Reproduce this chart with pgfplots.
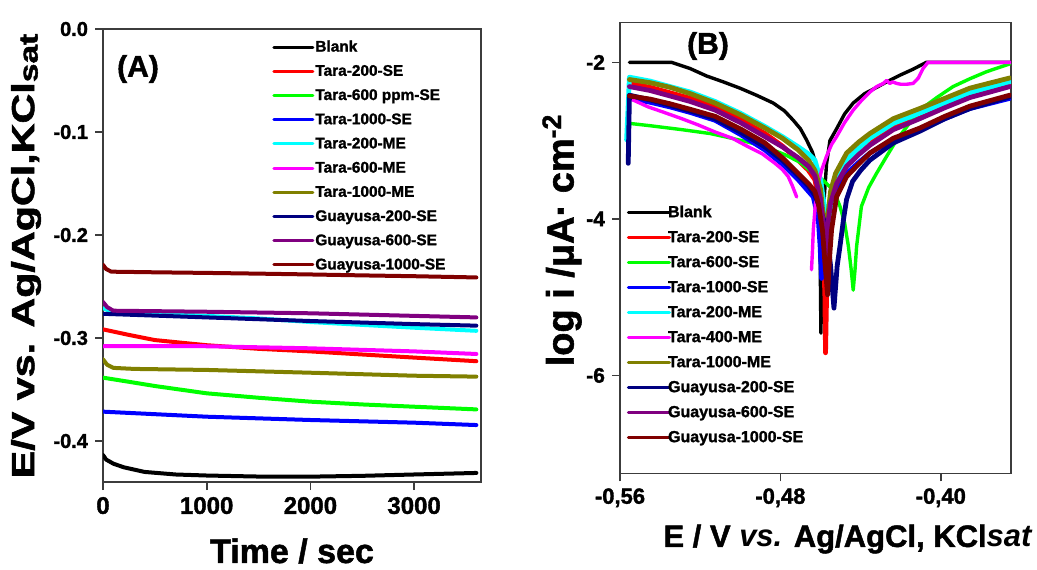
\documentclass[border=0pt]{standalone}
\usepackage{pgfplots}
\pgfplotsset{compat=1.18}
\usepackage{fontspec}
\setmainfont{Liberation Sans}[BoldFeatures={FakeBold=1.5}]
\definecolor{cgreen}{RGB}{0,255,0}
\definecolor{ccyan}{RGB}{0,255,255}
\definecolor{cmag}{RGB}{255,0,255}
\definecolor{colive}{RGB}{128,128,0}
\definecolor{cnavy}{RGB}{0,0,128}
\definecolor{cpurple}{RGB}{128,0,128}
\definecolor{cdkred}{RGB}{128,0,0}
\definecolor{cred}{RGB}{255,0,0}
\definecolor{cblue}{RGB}{0,0,255}
\definecolor{axgray}{RGB}{60,60,60}
\pgfplotsset{
  mystyle/.style={
    scale only axis, anchor=south west,
    axis line style={axgray, line width=0.8pt},
    tick style={axgray, line width=0.8pt},
    major tick length=4pt,
    tick align=outside, tick pos=left,
    clip=true,
    every axis plot/.append style={line join=round, line cap=round},
    legend cell align=left,
  }
}
\begin{document}
\begin{tikzpicture}
\useasboundingbox (0,0) rectangle (518.5pt,284.5pt);
% ---------------- Panel A ----------------
\begin{axis}[mystyle,
  at={(51.5pt,43.5pt)}, width=189pt, height=226.5pt,
  xmin=0, xmax=3645, ymin=-0.4398, ymax=0,
  xtick={0,1000,2000,3000}, xticklabels={0,1000,2000,3000},
  ytick={-0.4,-0.3,-0.2,-0.1,0}, yticklabels={-0.4,-0.3,-0.2,-0.1,0.0},
  xticklabel style={font=\fontsize{12}{14}\selectfont\bfseries},
  yticklabel style={font=\fontsize{10}{12}\selectfont\bfseries},
  every axis plot/.append style={line width=2pt},
  legend image code/.code={\draw[#1,line width=1.5pt] (0pt,0pt) -- (19.5pt,0pt);},
  legend style={draw=none, fill=none, at={(0.447,0.9775)}, anchor=north west,
    font=\fontsize{7.7}{9}\selectfont\bfseries, row sep=4.6pt, column sep=0.5pt, inner sep=0pt,
    nodes={inner sep=0pt, text height=6pt, text depth=1.5pt}},
]
\addplot[black] coordinates {(0,-0.4136) (30,-0.418) (100,-0.422) (200,-0.4255) (400,-0.430) (700,-0.4325) (1000,-0.4335) (1500,-0.4345) (2000,-0.4346) (2500,-0.4338) (3000,-0.4325) (3600,-0.431)};
\addlegendentry{Blank}
\addplot[cred] coordinates {(0,-0.2916) (250,-0.297) (500,-0.302) (1000,-0.307) (1500,-0.3105) (2000,-0.313) (2500,-0.316) (3000,-0.319) (3600,-0.3225)};
\addlegendentry{Tara-200-SE}
\addplot[cgreen] coordinates {(0,-0.3385) (250,-0.3425) (500,-0.3466) (1000,-0.3537) (1500,-0.358) (2000,-0.3618) (2500,-0.3645) (3000,-0.3667) (3600,-0.3693)};
\addlegendentry{Tara-600 ppm-SE}
\addplot[cblue] coordinates {(0,-0.3715) (1000,-0.3764) (2000,-0.3796) (3000,-0.3822) (3600,-0.3845)};
\addlegendentry{Tara-1000-SE}
\addplot[ccyan] coordinates {(0,-0.271) (60,-0.2735) (100,-0.274) (1000,-0.2785) (1500,-0.281) (2000,-0.2845) (3000,-0.290) (3600,-0.293)};
\addlegendentry{Tara-200-ME}
\addplot[cmag] coordinates {(0,-0.308) (500,-0.3078) (1000,-0.308) (1500,-0.309) (2000,-0.310) (2500,-0.3115) (3000,-0.313) (3600,-0.3155)};
\addlegendentry{Tara-600-ME}
\addplot[colive] coordinates {(0,-0.3207) (40,-0.326) (100,-0.329) (300,-0.330) (1000,-0.331) (2000,-0.3337) (3000,-0.3366) (3600,-0.3375)};
\addlegendentry{Tara-1000-ME}
\addplot[cnavy] coordinates {(0,-0.2765) (1000,-0.280) (2000,-0.2835) (3000,-0.2865) (3600,-0.288)};
\addlegendentry{Guayusa-200-SE}
\addplot[cpurple] coordinates {(0,-0.265) (40,-0.270) (100,-0.2735) (1000,-0.2745) (2000,-0.276) (3000,-0.2785) (3600,-0.280)};
\addlegendentry{Guayusa-600-SE}
\addplot[cdkred] coordinates {(0,-0.229) (30,-0.233) (80,-0.2356) (500,-0.2362) (1000,-0.2368) (1500,-0.2375) (2000,-0.2383) (2500,-0.2392) (3000,-0.240) (3600,-0.2412)};
\addlegendentry{Guayusa-1000-SE}
\end{axis}
% ---------------- Panel B ----------------
\begin{axis}[mystyle,
  at={(310pt,47.85pt)}, width=195.5pt, height=225.3pt,
  xmin=-0.56, xmax=-0.365, ymin=-7.25, ymax=-1.494,
  xtick={-0.56,-0.48,-0.40}, xticklabels={{-0,56},{-0,48},{-0,40}},
  ytick={-6,-4,-2}, yticklabels={-6,-4,-2},
  xticklabel style={font=\fontsize{11}{13}\selectfont\bfseries},
  yticklabel style={font=\fontsize{10.5}{12}\selectfont\bfseries},
  every axis plot/.append style={line width=2.4pt},
  legend image code/.code={\draw[#1,line width=1.6pt] (0pt,0pt) -- (20.5pt,0pt);},
  legend style={draw=none, fill=none, at={(0.0165,0.596)}, anchor=north west,
    font=\fontsize{8}{9}\selectfont\bfseries, row sep=5pt, column sep=-1.5pt, inner sep=0pt,
    nodes={inner sep=0pt, text height=6pt, text depth=1.5pt}},
]
\addplot[black, line width=1.7pt] coordinates {(-0.5553,-2.00) (-0.5343,-2.00) (-0.5250,-2.08) (-0.5168,-2.175) (-0.5085,-2.25) (-0.5002,-2.33) (-0.4920,-2.42) (-0.4836,-2.52) (-0.4780,-2.62) (-0.4736,-2.74) (-0.4700,-2.85) (-0.4670,-2.99) (-0.4640,-3.15) (-0.4620,-3.33) (-0.4610,-3.6) (-0.4603,-4.2) (-0.4598,-5.46) (-0.4592,-4.3) (-0.4582,-3.75) (-0.4570,-3.30) (-0.4553,-3.00) (-0.4520,-2.85) (-0.4480,-2.66) (-0.4437,-2.52) (-0.4380,-2.40) (-0.4320,-2.32) (-0.4270,-2.25) (-0.4200,-2.16) (-0.4140,-2.09) (-0.4072,-2.00) (-0.3650,-2.00)};
\addlegendentry{Blank}
\addplot[cred] coordinates {(-0.5553,-2.27) (-0.545,-2.32) (-0.535,-2.39) (-0.525,-2.46) (-0.5126,-2.57) (-0.500,-2.73) (-0.4877,-2.91) (-0.479,-3.07) (-0.4711,-3.25) (-0.466,-3.38) (-0.4628,-3.50) (-0.4600,-3.85) (-0.4585,-4.4) (-0.4578,-5.0) (-0.4575,-5.71) (-0.4570,-5.0) (-0.4562,-4.4) (-0.4550,-3.95) (-0.4530,-3.60) (-0.4500,-3.40) (-0.447,-3.25) (-0.441,-3.10) (-0.4354,-2.99) (-0.4237,-2.80) (-0.4105,-2.67) (-0.398,-2.54) (-0.3855,-2.41) (-0.3656,-2.27)};
\addlegendentry{Tara-200-SE}
\addplot[cgreen, line width=1.7pt] coordinates {(-0.5553,-2.78) (-0.545,-2.81) (-0.5292,-2.86) (-0.515,-2.91) (-0.5043,-2.97) (-0.4960,-3.02) (-0.4877,-3.08) (-0.4777,-3.18) (-0.4700,-3.28) (-0.4636,-3.42) (-0.4590,-3.50) (-0.4553,-3.59) (-0.4525,-3.70) (-0.4503,-3.84) (-0.4480,-4.05) (-0.4461,-4.35) (-0.4447,-4.65) (-0.4437,-4.91) (-0.4428,-4.65) (-0.4420,-4.35) (-0.4396,-3.84) (-0.4360,-3.60) (-0.4321,-3.42) (-0.4270,-3.20) (-0.4220,-2.99) (-0.4160,-2.79) (-0.4105,-2.61) (-0.4020,-2.45) (-0.3939,-2.31) (-0.3855,-2.21) (-0.3772,-2.12) (-0.3656,-2.02)};
\addlegendentry{Tara-600-SE}
\addplot[cblue] coordinates {(-0.5553,-2.46) (-0.545,-2.51) (-0.535,-2.57) (-0.525,-2.64) (-0.5126,-2.74) (-0.500,-2.92) (-0.4877,-3.12) (-0.479,-3.30) (-0.4711,-3.50) (-0.4636,-3.72) (-0.4611,-4.0) (-0.4602,-4.35) (-0.4595,-4.76) (-0.4588,-4.35) (-0.4575,-4.0) (-0.4555,-3.80) (-0.452,-3.60) (-0.447,-3.42) (-0.441,-3.28) (-0.4354,-3.16) (-0.4237,-2.98) (-0.4105,-2.86) (-0.398,-2.72) (-0.3855,-2.59) (-0.3656,-2.46)};
\addlegendentry{Tara-1000-SE}
\addplot[ccyan] coordinates {(-0.5567,-2.99) (-0.5553,-2.19) (-0.545,-2.24) (-0.535,-2.31) (-0.525,-2.38) (-0.5126,-2.50) (-0.500,-2.65) (-0.4877,-2.82) (-0.479,-2.95) (-0.4711,-3.08) (-0.466,-3.17) (-0.4628,-3.25) (-0.4600,-3.50) (-0.4580,-3.85) (-0.4565,-4.5) (-0.4550,-3.95) (-0.4530,-3.60) (-0.4500,-3.40) (-0.447,-3.25) (-0.441,-3.10) (-0.4354,-2.97) (-0.4237,-2.78) (-0.4105,-2.65) (-0.398,-2.52) (-0.3855,-2.39) (-0.3656,-2.25)};
\addlegendentry{Tara-200-ME}
\addplot[cmag, line width=1.7pt] coordinates {(-0.5553,-2.46) (-0.5459,-2.57) (-0.5380,-2.64) (-0.5292,-2.72) (-0.5210,-2.80) (-0.5126,-2.89) (-0.5040,-2.97) (-0.4960,-3.08) (-0.4890,-3.17) (-0.4827,-3.29) (-0.4790,-3.37) (-0.4761,-3.46) (-0.4740,-3.58) (-0.4719,-3.72)};
\addlegendentry{Tara-400-ME}
\addplot[cmag, line width=1.7pt, forget plot] coordinates {(-0.4645,-4.65) (-0.4640,-4.40) (-0.4636,-4.14) (-0.4625,-3.80) (-0.4611,-3.55) (-0.4595,-3.38) (-0.4570,-3.20) (-0.4545,-3.05) (-0.4520,-2.95) (-0.4480,-2.77) (-0.4437,-2.61) (-0.4400,-2.50) (-0.4354,-2.38) (-0.4320,-2.31) (-0.4287,-2.27) (-0.4270,-2.23) (-0.4255,-2.27) (-0.4240,-2.25) (-0.4220,-2.27) (-0.4200,-2.28) (-0.4170,-2.28) (-0.4138,-2.27) (-0.4112,-2.20) (-0.4089,-2.08) (-0.4064,-2.00) (-0.3650,-2.00)};
\addplot[colive] coordinates {(-0.5553,-2.22) (-0.545,-2.26) (-0.535,-2.32) (-0.525,-2.40) (-0.5126,-2.52) (-0.500,-2.67) (-0.4877,-2.84) (-0.479,-2.97) (-0.4711,-3.12) (-0.466,-3.25) (-0.4628,-3.38) (-0.4600,-3.62) (-0.4585,-4.0) (-0.4575,-4.5) (-0.4565,-4.0) (-0.4550,-3.65) (-0.4525,-3.42) (-0.447,-3.16) (-0.441,-3.02) (-0.4354,-2.91) (-0.4237,-2.72) (-0.4105,-2.59) (-0.398,-2.46) (-0.3855,-2.33) (-0.3656,-2.20)};
\addlegendentry{Tara-1000-ME}
\addplot[cnavy] coordinates {(-0.5559,-3.29) (-0.5553,-2.42) (-0.545,-2.48) (-0.535,-2.55) (-0.525,-2.62) (-0.5126,-2.72) (-0.500,-2.89) (-0.4877,-3.08) (-0.479,-3.25) (-0.4711,-3.45) (-0.466,-3.58) (-0.4628,-3.70) (-0.4600,-3.88) (-0.4570,-4.14) (-0.4550,-4.6) (-0.4533,-5.14) (-0.4517,-4.6) (-0.4503,-4.35) (-0.4485,-4.0) (-0.447,-3.75) (-0.444,-3.52) (-0.4400,-3.38) (-0.4354,-3.25) (-0.4237,-3.03) (-0.4105,-2.88) (-0.398,-2.72) (-0.3855,-2.59) (-0.3656,-2.44)};
\addlegendentry{Guayusa-200-SE}
\addplot[cpurple] coordinates {(-0.5553,-2.31) (-0.545,-2.36) (-0.535,-2.43) (-0.525,-2.50) (-0.5126,-2.61) (-0.500,-2.77) (-0.4877,-2.95) (-0.479,-3.08) (-0.4711,-3.22) (-0.466,-3.33) (-0.4628,-3.45) (-0.4600,-3.75) (-0.4585,-4.1) (-0.4575,-4.6) (-0.4565,-4.1) (-0.4550,-3.80) (-0.4520,-3.55) (-0.447,-3.33) (-0.441,-3.18) (-0.4354,-3.06) (-0.4237,-2.86) (-0.4105,-2.72) (-0.398,-2.58) (-0.3855,-2.45) (-0.3656,-2.31)};
\addlegendentry{Guayusa-600-SE}
\addplot[cdkred] coordinates {(-0.5553,-2.43) (-0.545,-2.47) (-0.535,-2.53) (-0.525,-2.60) (-0.5126,-2.69) (-0.500,-2.85) (-0.4877,-3.03) (-0.479,-3.22) (-0.4711,-3.42) (-0.466,-3.55) (-0.4628,-3.65) (-0.4611,-3.80) (-0.4590,-4.15) (-0.4578,-4.56) (-0.4565,-4.97) (-0.4555,-4.5) (-0.4545,-4.14) (-0.452,-3.72) (-0.447,-3.46) (-0.441,-3.30) (-0.4354,-3.16) (-0.4237,-2.97) (-0.4105,-2.84) (-0.398,-2.69) (-0.3855,-2.56) (-0.3656,-2.42)};
\addlegendentry{Guayusa-1000-SE}
\end{axis}
% ---------------- labels ----------------
\node[inner sep=0pt, font=\fontsize{17}{20}\selectfont\bfseries] at (146pt,9pt) {Time / sec};
\node[inner sep=0pt, rotate=90, font=\fontsize{16}{19}\selectfont\bfseries] at (13pt,156.5pt) {\scalebox{1.29}[1]{E/V vs. Ag/AgCl,KCl\raisebox{-0.2ex}{\fontsize{13}{15}\selectfont sat}}};
\node[font=\fontsize{15}{18}\selectfont\bfseries] at (69pt,250pt) {(A)};
\node[font=\fontsize{15}{18}\selectfont\bfseries] at (354pt,261.5pt) {(B)};
\node[inner sep=0pt, rotate=90, font=\fontsize{19}{22}\selectfont\bfseries] at (281pt,164.5pt) {log i /μA· cm\textsuperscript{-2}};
\node[inner sep=0pt, font=\fontsize{15.5}{19}\selectfont\bfseries] at (424pt,15pt) {E / V \textit{vs.} Ag/AgCl, KCl\textit{sat}};
\end{tikzpicture}
\end{document}
